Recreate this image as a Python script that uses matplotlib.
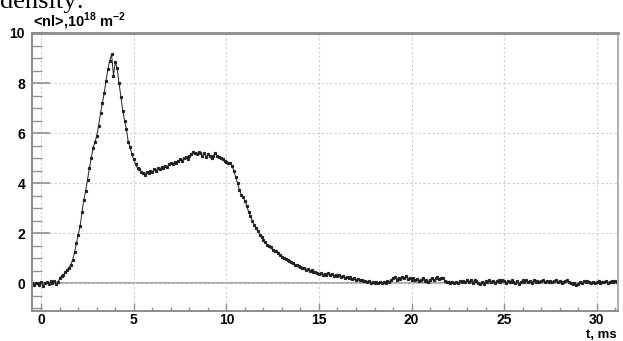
import numpy as np
import matplotlib
matplotlib.use("Agg")
import matplotlib.pyplot as plt
from matplotlib.ticker import MultipleLocator

# line density samples, one every 0.1 ms starting at t = -0.5 ms
t_start = -0.5
t_step = 0.1
nl = [
    0.02, -0.05, 0.03, 0.00, -0.08,
    0.04, -0.10, 0.02, 0.06, -0.04, 0.08, 0.00, 0.10, -0.02, 0.05,   # 0.0
    0.20, 0.30, 0.35, 0.45, 0.55, 0.62, 0.75, 0.95, 1.25, 1.60,      # 1.0
    1.95, 2.30, 2.85, 3.35, 3.70, 4.15, 4.60, 5.00, 5.40, 5.65,      # 2.0
    5.90, 6.30, 6.80, 7.20, 7.60, 8.10, 8.55, 8.90, 9.15, 8.30,      # 3.0
    8.85, 8.60, 8.00, 7.45, 6.90, 6.50, 6.15, 5.65, 5.45, 5.15,      # 4.0
    4.95, 4.75, 4.60, 4.55, 4.45, 4.40, 4.35, 4.45, 4.40, 4.50,      # 5.0
    4.45, 4.55, 4.50, 4.60, 4.55, 4.65, 4.60, 4.70, 4.65, 4.75,      # 6.0
    4.80, 4.75, 4.85, 4.80, 4.90, 4.95, 4.90, 5.00, 5.05, 4.95,      # 7.0
    5.10, 5.15, 5.25, 5.20, 5.15, 5.25, 5.20, 5.10, 5.20, 5.05,      # 8.0
    5.15, 5.10, 5.00, 5.10, 5.20, 5.10, 5.05, 5.00, 4.95, 4.90,      # 9.0
    4.85, 4.80, 4.80, 4.70, 4.50, 4.25, 4.00, 3.75, 3.55, 3.45,      # 10.0
    3.30, 3.10, 2.85, 2.70, 2.50, 2.35, 2.20, 2.10, 1.95, 1.85,      # 11.0
    1.75, 1.65, 1.55, 1.50, 1.45, 1.35, 1.30, 1.28, 1.20, 1.15,      # 12.0
    1.05, 1.00, 0.98, 0.92, 0.88, 0.85, 0.80, 0.75, 0.72, 0.70,      # 13.0
    0.65, 0.62, 0.60, 0.55, 0.58, 0.50, 0.52, 0.47, 0.45, 0.42,      # 14.0
    0.38, 0.40, 0.35, 0.38, 0.32, 0.40, 0.33, 0.36, 0.30, 0.34,      # 15.0
    0.28, 0.32, 0.25, 0.30, 0.22, 0.26, 0.20, 0.24, 0.18, 0.20,      # 16.0
    0.15, 0.18, 0.12, 0.15, 0.10, 0.08, 0.05, 0.08, 0.03, 0.06,      # 17.0
    0.02, 0.05, 0.00, 0.04, 0.02, 0.06, 0.03, 0.08, 0.05, 0.12,      # 18.0
    0.20, 0.25, 0.15, 0.22, 0.18, 0.25, 0.20, 0.30, 0.18, 0.22,      # 19.0
    0.15, 0.20, 0.12, 0.18, 0.10, 0.15, 0.20, 0.08, 0.12, 0.05,      # 20.0
    0.15, 0.22, 0.12, 0.20, 0.25, 0.18, 0.22, 0.20, 0.10, 0.06,      # 21.0
    0.05, 0.02, 0.06, 0.00, 0.04, 0.02, 0.08, 0.04, 0.10, 0.06,      # 22.0
    0.12, 0.05, 0.15, 0.02, 0.12, 0.08, 0.00, -0.04, 0.05, -0.02,    # 23.0
    0.10, 0.05, 0.12, 0.04, 0.10, 0.02, 0.08, 0.12, 0.05, 0.15,      # 24.0
    0.08, 0.02, 0.10, 0.05, 0.12, 0.06, 0.00, 0.08, -0.02, 0.06,     # 25.0
    0.12, 0.04, 0.15, 0.06, 0.10, 0.02, 0.12, 0.05, 0.10, 0.04,      # 26.0
    0.08, 0.12, 0.05, 0.10, 0.06, 0.08, 0.04, 0.10, 0.12, 0.06,      # 27.0
    0.08, 0.02, 0.06, 0.10, 0.12, 0.06, 0.02, -0.04, 0.03, -0.06,    # 28.0
    -0.02, 0.04, 0.00, 0.08, 0.04, 0.10, 0.05, 0.02, 0.06, 0.00,     # 29.0
    0.04, 0.08, 0.02, 0.06, 0.04, 0.08, 0.02, 0.06, 0.10, 0.04,      # 30.0
    0.08, 0.05,                                                      # 31.0
]
t = np.round(t_start + t_step * np.arange(len(nl)), 2)

title = r"<nl>,10$^{\mathbf{18}}$ m$^{\mathbf{-2}}$"
xlabel = "t, ms"
caption = "density:"

plt.rcParams['font.family'] = ['Liberation Sans', 'DejaVu Sans']
plt.rcParams['mathtext.fontset'] = 'custom'
plt.rcParams['mathtext.bf'] = 'Liberation Sans:bold'
plt.rcParams['mathtext.rm'] = 'Liberation Sans'

fig = plt.figure(figsize=(6.23, 3.41), dpi=100)
ax = fig.add_axes([32 / 623, 30 / 341, 586 / 623, 278 / 341])

ax.plot(t, nl, color='#222222', lw=0.7, marker='s', ms=1.3, mec='#222222', mfc='#222222')
ax.axhline(0, color='#8c8c8c', lw=1.1, zorder=1)

ax.set_xlim(-0.5, 31.15)
ax.set_ylim(-1.1, 10)
ax.xaxis.set_major_locator(MultipleLocator(5))
ax.xaxis.set_minor_locator(MultipleLocator(1))
ax.yaxis.set_major_locator(MultipleLocator(2))
ax.yaxis.set_minor_locator(MultipleLocator(0.5))

ax.grid(True, which='major', color='#cfcfcf', ls=(0, (2, 2)), lw=0.8, zorder=0)
ax.tick_params(axis='y', which='major', direction='in', length=13, width=1.2, color='#909090', pad=5, labelsize=10)
ax.tick_params(axis='y', which='minor', direction='in', length=7, width=1.0, color='#909090')
ax.tick_params(axis='x', which='major', direction='in', length=6, width=1.0, color='#909090', pad=1.5, labelsize=10)
ax.tick_params(axis='x', which='minor', direction='in', length=3, width=1.0, color='#909090')
for lab in ax.get_xticklabels() + ax.get_yticklabels():
    lab.set_fontweight('bold')

for side in ['left', 'bottom', 'top', 'right']:
    ax.spines[side].set_color('#8c8c8c')
    ax.spines[side].set_linewidth(1.4)
ax.spines['top'].set_linewidth(2.0)
ax.spines['right'].set_color('#b0b0b0')

fig.text(33 / 623, 1 - 26 / 341, title, fontsize=10.5, fontweight='bold', va='baseline', ha='left')
fig.text(617 / 623, 3 / 341, xlabel, fontsize=9.5, fontweight='bold', va='baseline', ha='right')
fig.text(0 / 623, 1 - 8 / 341, caption, fontsize=19, family='Liberation Serif', va='baseline', ha='left')

fig.savefig("out.png", dpi=100)
